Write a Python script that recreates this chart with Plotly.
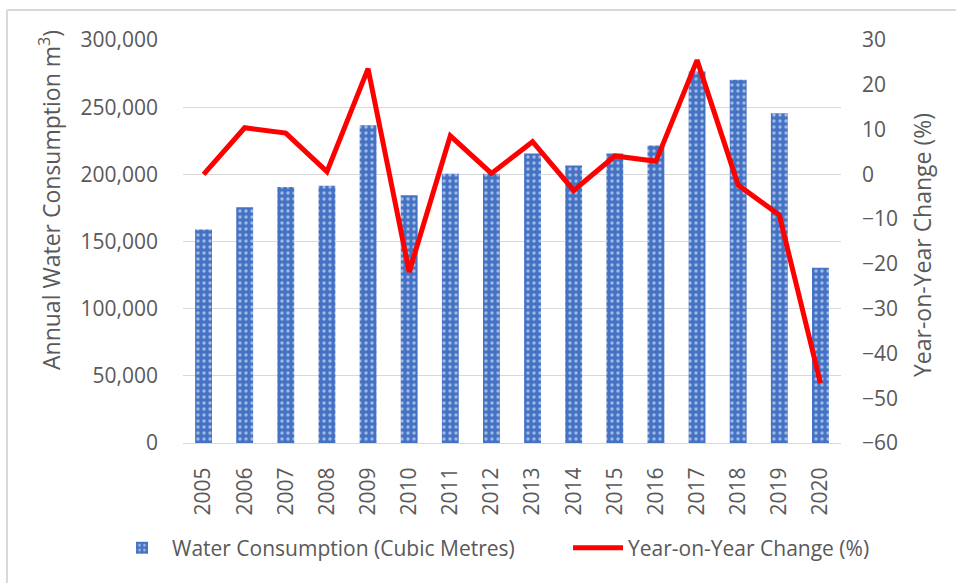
import plotly.graph_objects as go

years = ["2005", "2006", "2007", "2008", "2009", "2010", "2011", "2012",
         "2013", "2014", "2015", "2016", "2017", "2018", "2019", "2020"]
consumption = [159000, 175500, 190500, 191500, 236500, 184500, 200500, 200500,
               215500, 206500, 215500, 221500, 276500, 270500, 245500, 130500]
yoy_change = [0, 10.4, 9.2, 0.6, 23.6, -21.8, 8.6, 0.2,
              7.3, -3.6, 4.1, 2.9, 25.5, -2.4, -9.1, -46.6]

left_ticks = [0, 50000, 100000, 150000, 200000, 250000, 300000]
right_ticks = [-60, -50, -40, -30, -20, -10, 0, 10, 20, 30]

FONT = "Open Sans"
GREY = "#595959"
TS = 21

fig = go.Figure()
fig.add_trace(go.Bar(
    x=years, y=consumption, name="Water Consumption (Cubic Metres)",
    marker=dict(color="#4472C4", line=dict(width=0),
                pattern=dict(shape=".", fgcolor="white", bgcolor="#4472C4",
                             size=6, solidity=0.25, fillmode="overlay")),
    yaxis="y", legend="legend",
))
fig.add_trace(go.Scatter(
    x=years, y=yoy_change, name="Year-on-Year Change (%)",
    mode="lines", line=dict(color="#FF0000", width=5),
    yaxis="y2", legend="legend2",
))

PL, PW, PB, PH = 183, 658, 443, 403

def px_x(x):
    return (x - PL) / PW

def px_y(y):
    return (PB - y) / PH

fig.update_layout(
    width=956, height=583,
    margin=dict(l=183, r=115, t=40, b=140, autoexpand=False),
    paper_bgcolor="white", plot_bgcolor="white",
    font=dict(family=FONT, size=TS, color=GREY),
    bargap=0.59,
    showlegend=True,
    legend=dict(orientation="h", x=px_x(112), xanchor="left", y=px_y(548), yanchor="middle",
                font=dict(family=FONT, size=TS, color=GREY),
                itemwidth=50, bgcolor="rgba(0,0,0,0)"),
    legend2=dict(orientation="h", x=px_x(568), xanchor="left", y=px_y(548), yanchor="middle",
                 font=dict(family=FONT, size=TS, color=GREY),
                 itemwidth=50, bgcolor="rgba(0,0,0,0)"),
    xaxis=dict(type="category", tickangle=-90, showgrid=False,
               showline=True, linecolor="#d9d9d9", linewidth=1,
               ticks="", ticklabelstandoff=15, automargin=False,
               tickfont=dict(family=FONT, size=TS, color=GREY)),
    yaxis=dict(range=[0, 300000], tickvals=left_ticks, tickformat=",",
               showgrid=True, gridcolor="#d9d9d9", gridwidth=1,
               zeroline=False, showline=False, ticks="",
               ticklabelstandoff=24, automargin=False,
               tickfont=dict(family=FONT, size=TS, color=GREY)),
    yaxis2=dict(range=[-60, 30], tickvals=right_ticks, overlaying="y", side="right",
                showgrid=False, zeroline=False, showline=False, ticks="",
                ticklabelstandoff=20, automargin=False,
                tickfont=dict(family=FONT, size=TS, color=GREY)),
    annotations=[
        dict(text="Annual Water Consumption m<sup>3</sup>)", textangle=-90,
             xref="paper", yref="paper", x=px_x(50), y=px_y(200),
             xanchor="center", yanchor="middle", showarrow=False,
             font=dict(family=FONT, size=23, color=GREY)),
        dict(text="Year-on-Year Change (%)", textangle=-90,
             xref="paper", yref="paper", x=px_x(922), y=px_y(245),
             xanchor="center", yanchor="middle", showarrow=False,
             font=dict(family=FONT, size=23, color=GREY)),
    ],
    shapes=[
        dict(type="line", xref="paper", yref="paper",
             x0=px_x(7), x1=px_x(956), y0=px_y(10), y1=px_y(10),
             line=dict(color="#d9d9d9", width=2)),
        dict(type="line", xref="paper", yref="paper",
             x0=px_x(7), x1=px_x(7), y0=px_y(10), y1=px_y(583),
             line=dict(color="#d9d9d9", width=2)),
    ],
)

fig.write_html("out.html", config={"displayModeBar": False},
               post_script="document.body.style.margin='0px';document.body.style.padding='0px';")
